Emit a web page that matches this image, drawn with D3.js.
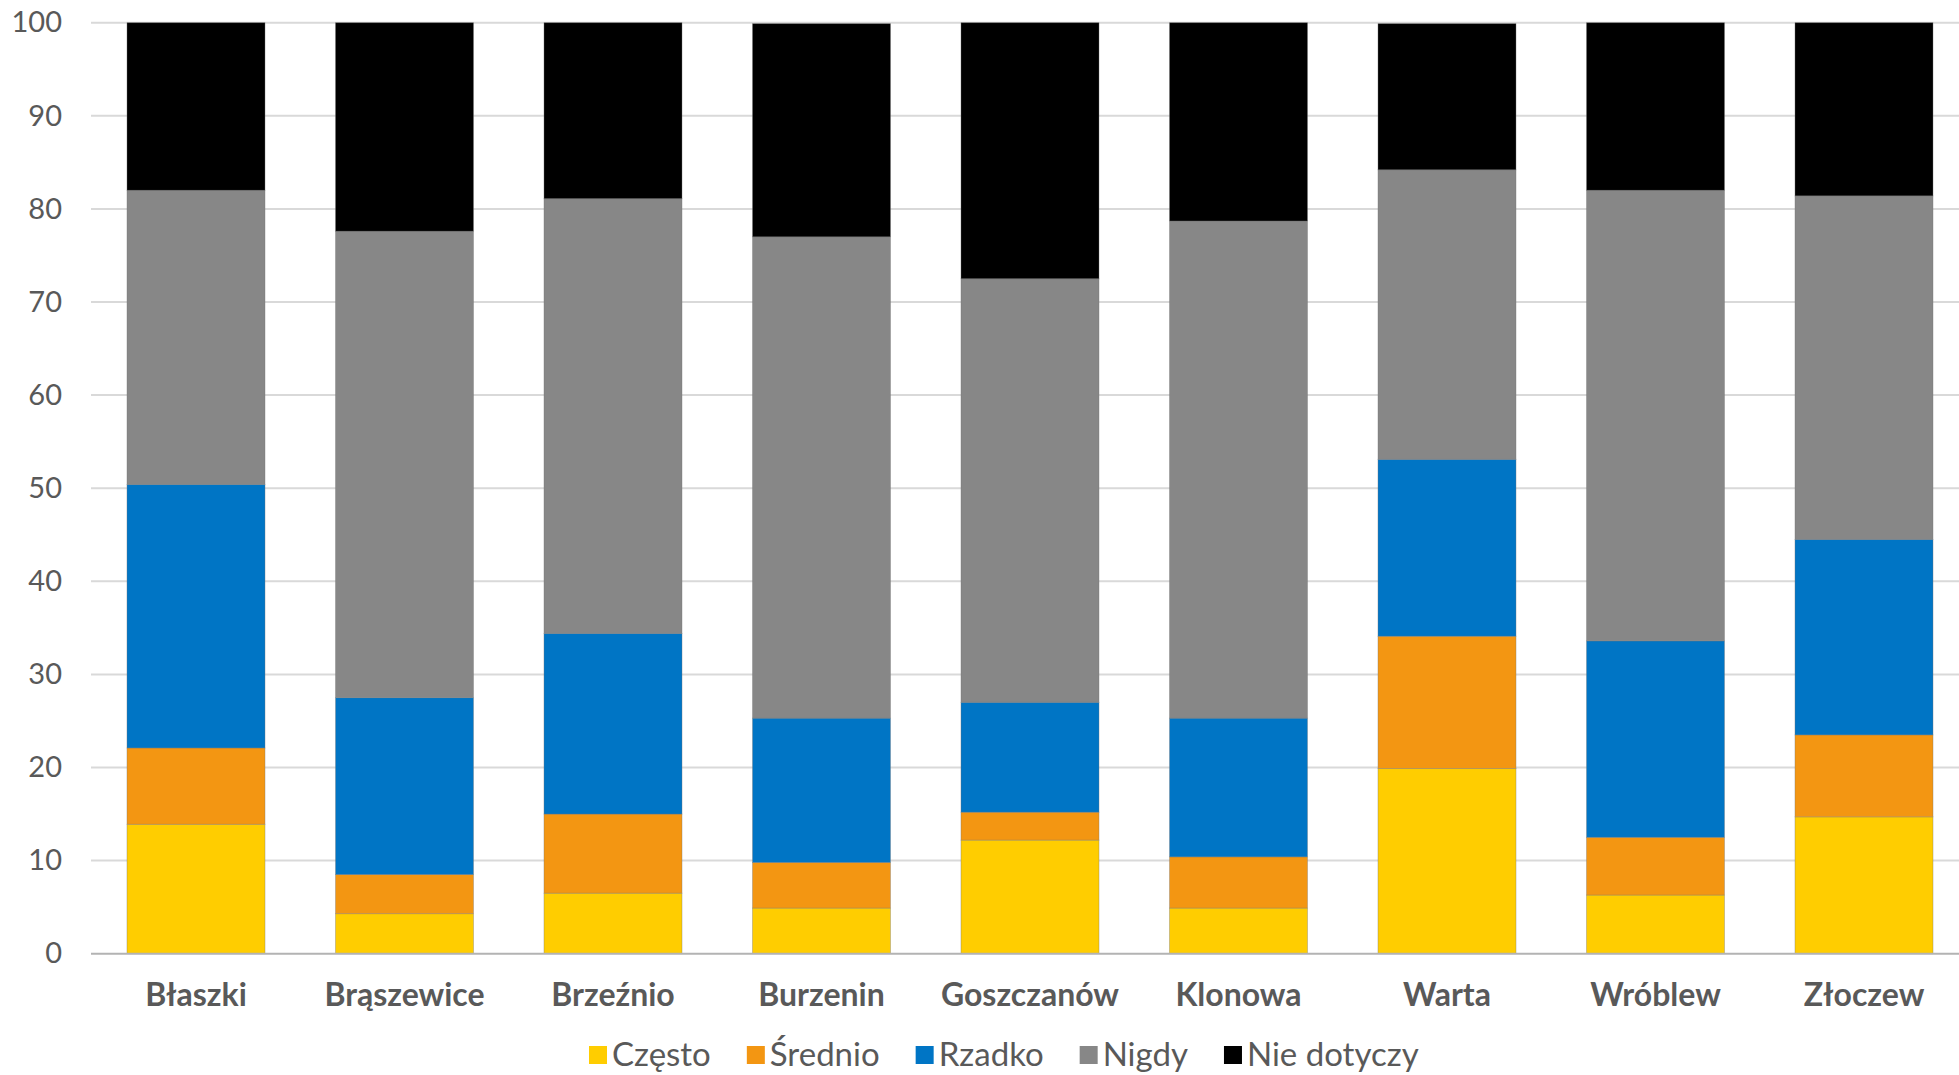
<!DOCTYPE html>
<html>
<head>
<meta charset="utf-8">
<script src="https://cdn.jsdelivr.net/npm/d3@7"></script>
<style>
  html, body { margin: 0; padding: 0; background: #fff; }
  svg { display: block; font-family: Lato, "Open Sans", sans-serif; }
</style>
</head>
<body>
<svg width="1959" height="1075"></svg>
<script>
// gminy
const gminy = ["Błaszki", "Brąszewice", "Brzeźnio", "Burzenin", "Goszczanów", "Klonowa", "Warta", "Wróblew", "Złoczew"];

// odpowiedzi (%) w kolejności gmin
const czesto     = [13.9, 4.3, 6.5, 4.9, 12.2, 4.9, 19.9, 6.3, 14.7];
const srednio    = [8.2, 4.2, 8.5, 4.9, 3.0, 5.5, 14.2, 6.2, 8.8];
const rzadko     = [28.3, 19.0, 19.4, 15.5, 11.8, 14.9, 19.0, 21.1, 21.0];
const nigdy      = [31.6, 50.1, 46.7, 51.7, 45.5, 53.4, 31.1, 48.4, 36.9];
const nieDotyczy = [18.0, 22.4, 18.9, 22.9, 27.5, 21.3, 15.7, 18.0, 18.6];

const serie = ["Często", "Średnio", "Rzadko", "Nigdy", "Nie dotyczy"];
const kolory = ["#FFCD00", "#F39612", "#0075C5", "#878787", "#000000"];
const yTicks = [0, 10, 20, 30, 40, 50, 60, 70, 80, 90, 100];

const svg = d3.select("svg");

// tabela dla d3.stack
const wartosci = [czesto, srednio, rzadko, nigdy, nieDotyczy];
const tabela = gminy.map((g, i) => {
    const o = {gmina: g};
    serie.forEach((s, k) => o[s] = wartosci[k][i]);
    return o;
});

const x = d3.scaleBand().domain(gminy).range([91.75, 1968.25])
            .paddingInner(0.338).paddingOuter(0.169);
const y = d3.scaleLinear().domain([0, 100]).range([953.7, 22.7]);
const color = d3.scaleOrdinal().domain(serie).range(kolory);

// siatka
svg.append("g")
   .selectAll("line")
   .data(yTicks.filter(t => t > 0))
   .enter().append("line")
   .attr("x1", 91).attr("x2", 1959)
   .attr("y1", d => y(d)).attr("y2", d => y(d))
   .attr("stroke", "#d9d9d9")
   .attr("stroke-width", 2);

// etykiety osi Y
const yAxis = svg.append("g")
   .attr("transform", "translate(62,0)")
   .call(d3.axisLeft(y).tickValues(yTicks).tickSize(0).tickPadding(0));
yAxis.select(".domain").remove();
yAxis.selectAll("text")
   .attr("font-family", "Lato")
   .attr("font-size", 29)
   .attr("fill", "#595959");

// słupki
const stack = d3.stack().keys(serie)(tabela);
svg.append("g")
   .selectAll("g")
   .data(stack)
   .enter().append("g")
   .attr("fill", d => color(d.key))
   .selectAll("rect")
   .data(d => d)
   .enter().append("rect")
   .attr("x", d => x(d.data.gmina))
   .attr("width", x.bandwidth())
   .attr("y", d => y(d[1]))
   .attr("height", d => y(d[0]) - y(d[1]))
   .attr("stroke", "rgba(120,120,120,0.45)")
   .attr("stroke-width", 0.8);

// linia bazowa
svg.append("line")
   .attr("x1", 91).attr("x2", 1959)
   .attr("y1", y(0)).attr("y2", y(0))
   .attr("stroke", "#b3b3b3")
   .attr("stroke-width", 2);

// etykiety osi X
const xAxis = svg.append("g")
   .attr("transform", `translate(0,${y(0)})`)
   .call(d3.axisBottom(x).tickSize(0).tickPadding(30));
xAxis.select(".domain").remove();
xAxis.selectAll("text")
   .attr("font-family", "Lato")
   .attr("font-weight", "bold")
   .attr("font-size", 32)
   .attr("fill", "#595959");

// legenda
const legenda = svg.append("g").attr("transform", "translate(589,1066)");
let lx = 0;
serie.forEach((s, k) => {
    const g = legenda.append("g").attr("transform", `translate(${lx},0)`);
    g.append("rect")
     .attr("x", 0).attr("y", -20)
     .attr("width", 18).attr("height", 18)
     .attr("fill", kolory[k]);
    const t = g.append("text")
     .attr("x", 23).attr("y", 0)
     .attr("font-family", "Lato")
     .attr("font-size", 33)
     .attr("fill", "#595959")
     .text(s);
    lx += 23 + t.node().getComputedTextLength() + 36;
});
</script>
</body>
</html>
